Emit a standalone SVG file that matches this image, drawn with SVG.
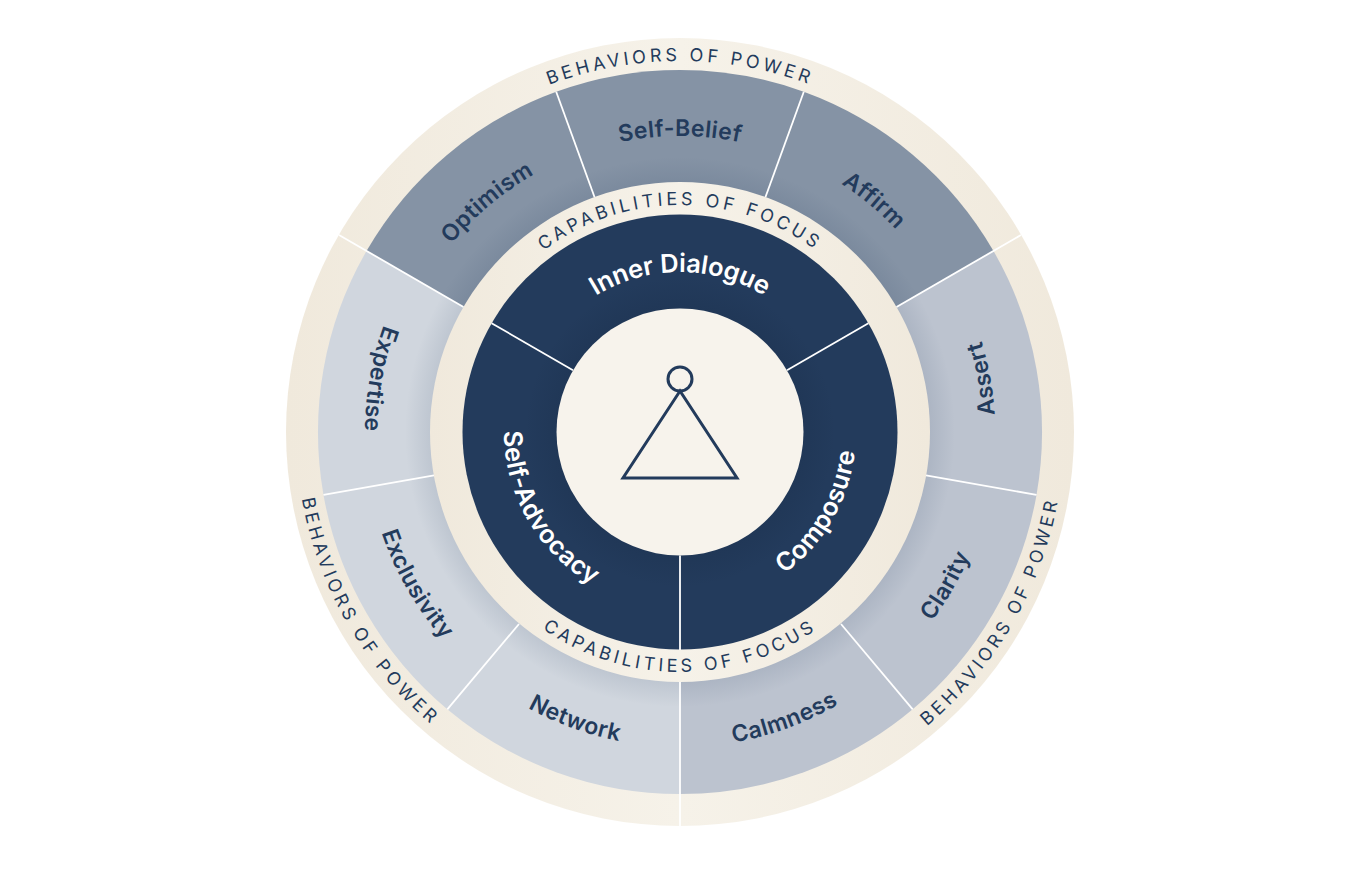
<svg xmlns="http://www.w3.org/2000/svg" width="1345" height="876" viewBox="0 0 1345 876">
<style>
.lb{font-family:"Inter","Noto Sans","Liberation Sans",sans-serif;font-weight:600;font-size:23px;letter-spacing:.4px;fill:#233b5c;text-anchor:middle}
.in{font-family:"Inter","Noto Sans","Liberation Sans",sans-serif;font-weight:600;font-size:25.5px;letter-spacing:.3px;fill:#fff;text-anchor:middle}
.tp{letter-spacing:-.1px}
.cp{font-family:"Inter","Noto Sans","Liberation Sans",sans-serif;font-weight:400;font-size:18px;letter-spacing:3.7px;fill:#233b5c;text-anchor:middle}
.dv{stroke:#fff;stroke-width:1.800;fill:none}
</style>
<defs>
<linearGradient id="beige" x1="0" y1="0" x2="1" y2="0"><stop offset="0" stop-color="#f0e9dc"/><stop offset="0.5" stop-color="#f6f2e9"/><stop offset="1" stop-color="#f0e9dc"/></linearGradient>
<radialGradient id="shade" gradientUnits="userSpaceOnUse" cx="680" cy="432" r="275"><stop offset="0.91" stop-color="#233b5c" stop-opacity="0.1"/><stop offset="1" stop-color="#233b5c" stop-opacity="0"/></radialGradient>
<radialGradient id="shadeIn" gradientUnits="userSpaceOnUse" cx="680" cy="432" r="155"><stop offset="0.79" stop-color="#14263f" stop-opacity="0.18"/><stop offset="1" stop-color="#14263f" stop-opacity="0"/></radialGradient>
<path id="c371" d="M309 432A371 371 0 0 1 1051 432"/>
<path id="c384" d="M296 432A384 384 0 0 0 1064 432"/>
<path id="c227" d="M453 432A227 227 0 0 1 907 432"/>
<path id="c240" d="M440 432A240 240 0 0 0 920 432"/>
<path id="o296" d="M384 432A296 296 0 0 1 976 432"/>
<path id="o315" d="M365 432A315 315 0 0 0 995 432"/>
<path id="i160" d="M520 432A160 160 0 0 1 840 432"/>
<path id="i176" d="M504 432A176 176 0 0 0 856 432"/>
</defs>
<rect width="1345" height="876" fill="#fff"/>
<g id="outer-ring"><circle cx="680" cy="432" r="394" fill="url(#beige)"/></g>
<g id="segments">
<g id="seg-self-belief"><path d="M680 432L556.2 91.8A362 362 0 0 1 803.8 91.8Z" fill="#8593a5"/></g>
<g id="seg-affirm"><path d="M680 432L803.8 91.8A362 362 0 0 1 993.5 251Z" fill="#8593a5"/></g>
<g id="seg-assert"><path d="M680 432L993.5 251A362 362 0 0 1 1036.5 494.9Z" fill="#bcc3cf"/></g>
<g id="seg-clarity"><path d="M680 432L1036.5 494.9A362 362 0 0 1 912.7 709.3Z" fill="#bcc3cf"/></g>
<g id="seg-calmness"><path d="M680 432L912.7 709.3A362 362 0 0 1 680 794Z" fill="#bcc3cf"/></g>
<g id="seg-network"><path d="M680 432L680 794A362 362 0 0 1 447.3 709.3Z" fill="#d0d6de"/></g>
<g id="seg-exclusivity"><path d="M680 432L447.3 709.3A362 362 0 0 1 323.5 494.9Z" fill="#d0d6de"/></g>
<g id="seg-expertise"><path d="M680 432L323.5 494.9A362 362 0 0 1 366.5 251Z" fill="#d0d6de"/></g>
<g id="seg-optimism"><path d="M680 432L366.5 251A362 362 0 0 1 556.2 91.8Z" fill="#8593a5"/></g>
</g>
<circle cx="680" cy="432" r="275" fill="url(#shade)"/>
<g id="capability-ring"><circle cx="680" cy="432" r="250" fill="url(#beige)"/></g>
<g id="capabilities"><circle cx="680" cy="432" r="217.500" fill="#233b5c"/><circle cx="680" cy="432" r="155" fill="url(#shadeIn)"/></g>
<g id="centre">
<circle cx="680" cy="432" r="123.500" fill="#f7f3ec"/>
<circle cx="680" cy="379" r="12" fill="none" stroke="#233b5c" stroke-width="3"/>
<path d="M680 391L623 478H737Z" fill="none" stroke="#233b5c" stroke-width="3"/>
</g>
<g id="connectors">
<path class="dv" d="M680 682V826"/>
<path class="dv" d="M841 624L912.700 709.300"/>
<path class="dv" d="M926 475.400L1036.500 494.900"/>
<path class="dv" d="M896.500 307L1021 235"/>
<path class="dv" d="M765.500 197L803.800 91.800"/>
<path class="dv" d="M594.500 197L556.200 91.800"/>
<path class="dv" d="M463.500 307L339 235"/>
<path class="dv" d="M434 475.400L323.500 494.900"/>
<path class="dv" d="M519 624L447.300 709.300"/>
<path class="dv" d="M680 555.500V650"/>
<path class="dv" d="M787 370.200L868.400 323.200"/>
<path class="dv" d="M573 370.200L491.600 323.200"/>
</g>
<g id="labels">
<text class="cp"><textPath href="#c371" startOffset="50%">BEHAVIORS OF POWER</textPath></text>
<text class="cp" transform="rotate(-60 680 432)"><textPath href="#c384" startOffset="50%">BEHAVIORS OF POWER</textPath></text>
<text class="cp" transform="rotate(60 680 432)"><textPath href="#c384" startOffset="50%">BEHAVIORS OF POWER</textPath></text>
<text class="cp"><textPath href="#c227" startOffset="50%">CAPABILITIES OF FOCUS</textPath></text>
<text class="cp"><textPath href="#c240" startOffset="50%">CAPABILITIES OF FOCUS</textPath></text>
<text class="lb"><textPath href="#o296" startOffset="50%">Self-Belief</textPath></text>
<text class="lb" transform="rotate(-40 680 432)"><textPath href="#o296" startOffset="50%">Optimism</textPath></text>
<text class="lb" transform="rotate(40 680 432)"><textPath href="#o296" startOffset="50%">Affirm</textPath></text>
<text class="lb" transform="rotate(-100 680 432)"><textPath href="#o315" startOffset="50%">Assert</textPath></text>
<text class="lb" transform="rotate(-60 680 432)"><textPath href="#o315" startOffset="50%">Clarity</textPath></text>
<text class="lb" transform="rotate(-20 680 432)"><textPath href="#o315" startOffset="50%">Calmness</textPath></text>
<text class="lb" transform="rotate(20 680 432)"><textPath href="#o315" startOffset="50%">Network</textPath></text>
<text class="lb" transform="rotate(60 680 432)"><textPath href="#o315" startOffset="50%">Exclusivity</textPath></text>
<text class="lb" transform="rotate(100 680 432)"><textPath href="#o315" startOffset="50%">Expertise</textPath></text>
<text class="in tp"><textPath href="#i160" startOffset="50%">Inner Dialogue</textPath></text>
<text class="in" transform="rotate(-60 680 432)"><textPath href="#i176" startOffset="50%">Composure</textPath></text>
<text class="in" transform="rotate(60 680 432)"><textPath href="#i176" startOffset="50%">Self-Advocacy</textPath></text>
</g>
</svg>
